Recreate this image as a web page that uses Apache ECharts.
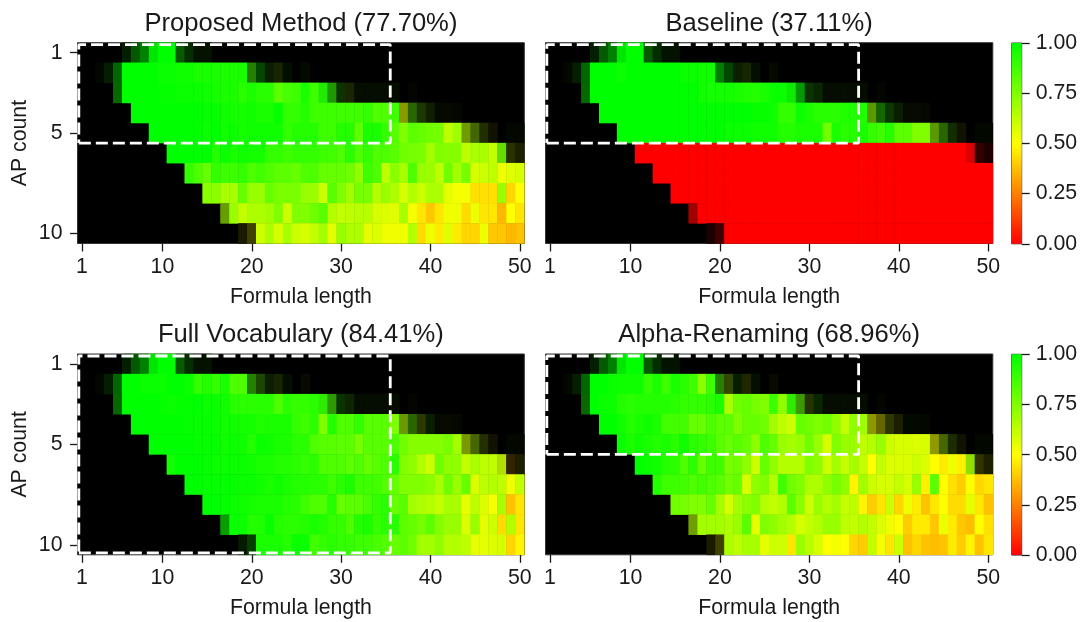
<!DOCTYPE html>
<html><head><meta charset="utf-8"><style>html,body{margin:0;background:#fff}#c{width:1081px;height:622px}</style>
<script src="https://cdn.jsdelivr.net/npm/echarts@6/dist/echarts.min.js"></script></head><body><div id="c"></div>
<script>
const formulaLengths = Array.from({length:50},(_, i)=>String(i+1));
const apCounts = ['1','2','3','4','5','6','7','8','9','10'];
const xTickLabels = ['1','10','20','30','40','50'];
const yTickLabels = ['1','5','10'];
const panelTitles = ['Proposed Method (77.70%)','Baseline (37.11%)','Full Vocabulary (84.41%)','Alpha-Renaming (68.96%)'];
const colorbarTicks = [0,0.25,0.5,0.75,1];
// sample density per cell (drawn as brightness); 0 = no samples
const coverage = [
[0,0,0,0,0,.12,.35,.5,.9,1,1,.35,.18,.07,.07],
[0,0,.03,.12,.4,1,1,1,1,1,1,1,1,1,1,1,1,1,1,.5,.28,.12,.15,.06,0,.04],
[0,0,0,0,.4,1,1,1,1,1,1,1,1,1,1,1,1,1,1,1,1,1,1,1,1,1,1,.92,.6,.2,.15,.05,.05,.05,.05,.05,0,.02],
[0,0,0,0,0,0,1,1,1,1,1,1,1,1,1,1,1,1,1,1,1,1,1,1,1,1,1,1,1,1,1,1,1,1,1,1,.6,.4,.22,.12,.04,.04,.03],
[0,0,0,0,0,0,0,0,1,1,1,1,1,1,1,1,1,1,1,1,1,1,1,1,1,1,1,1,1,1,1,1,1,1,1,1,1,1,1,1,1,1,1,.6,.4,.18,.07,0,.03,.03],
[0,0,0,0,0,0,0,0,0,0,1,1,1,1,1,1,1,1,1,1,1,1,1,1,1,1,1,1,1,1,1,1,1,1,1,1,1,1,1,1,1,1,1,1,1,1,1,.87,.2,.12],
[0,0,0,0,0,0,0,0,0,0,0,0,1,1,1,1,1,1,1,1,1,1,1,1,1,1,1,1,1,1,1,1,1,1,1,1,1,1,1,1,1,1,1,1,1,1,1,1,1,1],
[0,0,0,0,0,0,0,0,0,0,0,0,0,0,1,1,1,1,1,1,1,1,1,1,1,1,1,1,1,1,1,1,1,1,1,1,1,1,1,1,1,1,1,1,1,1,1,1,1,1],
[0,0,0,0,0,0,0,0,0,0,0,0,0,0,0,0,.62,1,1,1,1,1,1,1,1,1,1,1,1,1,1,1,1,1,1,1,1,1,1,1,1,1,1,1,1,1,1,1,1,1],
[0,0,0,0,0,0,0,0,0,0,0,0,0,0,0,0,0,0,.1,.25,1,1,1,1,1,1,1,1,1,1,1,1,1,1,1,1,1,1,1,1,1,1,1,1,1,1,1,1,1,1]
];
const proposed = [
[0,0,0,0,0,.95,.97,1,1,1,1,.95,.95,.9,.9],
[0,0,.9,.95,1,1,1,1,1,.98,.98,.97,.97,.95,.95,.95,.95,.95,.95,.85,.97,.85,.7,.9,.9,.8],
[0,0,0,0,.97,1,1,1,1,.99,.99,.98,.98,.98,.97,.96,.95,.95,.92,.95,.92,.92,.82,.86,.88,.95,.88,.93,.9,.85,.65,.8,.8,.8,.8,.8,0,.8],
[0,0,0,0,0,0,1,1,1,1,1,1,1,1,.99,.99,.97,.96,.96,.97,.95,.95,.99,.9,.9,.93,.88,.88,.88,.88,.88,.88,.9,.85,.85,.88,.55,.8,.75,.75,.8,.8,.8],
[0,0,0,0,0,0,0,0,1,1,1,1,1,1,.98,1,.97,.98,.96,.97,.97,.97,.97,.9,.93,.93,.93,.88,.88,.93,.93,.82,.95,.95,.9,.83,.75,.82,.8,.78,.77,.63,.69,.63,.67,.64,.5,0,.9,.9],
[0,0,0,0,0,0,0,0,0,0,1,1,1,1,1,.93,.98,.95,.97,.96,.96,.9,.9,.88,.9,.9,.9,.88,.87,.85,.92,.85,.9,.85,.85,.83,.78,.77,.76,.68,.75,.74,.74,.63,.67,.67,.62,.78,.6,.55],
[0,0,0,0,0,0,0,0,0,0,0,0,.9,.85,.8,.9,.88,.88,.9,.85,.87,.85,.82,.82,.8,.85,.85,.8,.8,.8,.78,.72,.88,.85,.63,.73,.67,.85,.7,.7,.63,.78,.68,.77,.58,.6,.63,.53,.56,.58],
[0,0,0,0,0,0,0,0,0,0,0,0,0,0,.73,.73,.67,.67,.8,.7,.7,.8,.76,.76,.76,.7,.7,.6,.83,.75,.68,.77,.77,.65,.7,.66,.58,.65,.6,.66,.66,.55,.52,.52,.44,.44,.44,.7,.42,.5],
[0,0,0,0,0,0,0,0,0,0,0,0,0,0,0,0,.68,.7,.62,.66,.66,.68,.75,.6,.75,.75,.78,.82,.65,.62,.63,.64,.64,.58,.57,.56,.67,.52,.45,.39,.45,.53,.53,.43,.53,.45,.45,.36,.5,.45],
[0,0,0,0,0,0,0,0,0,0,0,0,0,0,0,0,0,0,.5,.5,.6,.66,.58,.67,.6,.58,.62,.68,.55,.7,.66,.66,.55,.57,.53,.53,.53,.65,.43,.53,.46,.56,.46,.42,.42,.53,.39,.39,.36,.38]
];
const baseline = [
[0,0,0,0,0,.95,.97,1,1,1,1,.95,.95,.9,.9],
[0,0,.9,.95,1,1,1,1,.98,1,1,1,1,1,1,.98,.98,.97,.97,1,1,.8,.7,.9,.9,.8],
[0,0,0,0,.97,1,1,1,1,1,1,1,1,1,1,1,1,.97,.96,.96,.96,.95,.94,.93,.95,.98,.98,.97,.99,.9,.9,.8,.8,.8,.8,.8,0,.8],
[0,0,0,0,0,0,1,1,1,1,1,1,1,1,1,1,1,1,1,1,1,1,1,.99,.99,.97,.9,.9,.98,.95,.92,.92,.92,.94,.94,.94,.7,.9,.9,.85,.7,.7,.8],
[0,0,0,0,0,0,0,0,1,1,1,1,1,1,1,1,1,1,1,1,.98,.98,.98,.97,.97,.97,.93,.93,.95,.95,.95,.78,.95,.92,.93,.95,.9,.88,.93,.82,.82,.75,.75,.7,.8,.8,.5,0,.9,.9],
[0,0,0,0,0,0,0,0,0,0,0,0,0,0,0,0,0,0,0,0,0,0,0,0,0,0,0,0,0,0,0,0,0,0,0,0,0,0,0,0,0,0,0,0,0,0,0,0,0,0],
[0,0,0,0,0,0,0,0,0,0,0,0,0,0,0,0,0,0,0,0,0,0,0,0,0,0,0,0,0,0,0,0,0,0,0,0,0,0,0,0,0,0,0,0,0,0,0,0,0,0],
[0,0,0,0,0,0,0,0,0,0,0,0,0,0,0,0,0,0,0,0,0,0,0,0,0,0,0,0,0,0,0,0,0,0,0,0,0,0,0,0,0,0,0,0,0,0,0,0,0,0],
[0,0,0,0,0,0,0,0,0,0,0,0,0,0,0,0,0,0,0,0,0,0,0,0,0,0,0,0,0,0,0,0,0,0,0,0,0,0,0,0,0,0,0,0,0,0,0,0,0,0],
[0,0,0,0,0,0,0,0,0,0,0,0,0,0,0,0,0,0,0,0,0,0,0,0,0,0,0,0,0,0,0,0,0,0,0,0,0,0,0,0,0,0,0,0,0,0,0,0,0,0]
];
const fullVocabulary = [
[0,0,0,0,0,.95,.97,1,1,1,1,.95,.95,.9,.9],
[0,0,.9,.95,1,1,1,.98,.98,.98,1,1,.98,.9,.93,.9,.95,.85,.85,.85,.8,.8,.7,.9,.9,.7],
[0,0,0,0,.97,1,1,1,1,.99,.98,.99,.99,1,.98,.98,.97,.92,.92,.92,.92,.92,.85,.92,.9,.9,.92,.9,.85,.9,.85,.8,.8,.8,.8,.8,0,.8],
[0,0,0,0,0,0,1,1,1,1,1,1,.99,.99,.99,.98,.97,.97,.96,.96,.94,.95,.95,.95,.9,.88,.92,.75,.93,.85,.85,.9,.83,.83,.83,.75,.65,.8,.62,.85,.7,.7,.7],
[0,0,0,0,0,0,0,0,1,1,1,1,1,.99,.99,.99,.97,.98,.97,.93,.98,.97,.95,.95,.92,.92,.85,.83,.83,.82,.82,.77,.83,.83,.83,.85,.78,.74,.74,.74,.74,.77,.68,.6,.65,.6,.5,0,.9,.9],
[0,0,0,0,0,0,0,0,0,0,.97,1,1,1,.99,.98,.98,.98,.98,.97,.95,.95,.93,.93,.92,.9,.92,.85,.85,.85,.82,.85,.8,.83,.85,.92,.75,.72,.65,.6,.78,.72,.72,.62,.67,.63,.63,.6,.35,.55],
[0,0,0,0,0,0,0,0,0,0,0,0,1,1,.99,.99,.99,.99,.98,.98,.97,.95,.97,.95,.93,.93,.92,.92,.88,.92,.95,.88,.88,.87,.84,.8,.75,.75,.75,.73,.67,.78,.7,.8,.57,.63,.65,.63,.53,.62],
[0,0,0,0,0,0,0,0,0,0,0,0,0,0,1,1,.99,.98,.97,.96,.95,.95,.95,.93,.92,.88,.85,.85,.93,.8,.82,.82,.86,.9,.92,.8,.83,.68,.66,.65,.62,.67,.67,.55,.63,.57,.52,.67,.38,.45],
[0,0,0,0,0,0,0,0,0,0,0,0,0,0,0,0,.97,.98,.98,.93,.94,.99,.93,.92,.92,.93,.95,.93,.9,.9,.85,.93,.95,.9,.92,.92,.82,.8,.77,.82,.74,.7,.7,.57,.7,.55,.6,.43,.65,.45],
[0,0,0,0,0,0,0,0,0,0,0,0,0,0,0,0,0,0,.9,.95,.95,.95,.95,.93,.98,.98,.87,.9,.92,.9,.9,.88,.88,.86,.84,.8,.82,.78,.68,.68,.72,.65,.65,.63,.55,.55,.57,.58,.42,.48]
];
const alphaRenaming = [
[0,0,0,0,0,.95,.97,1,1,1,1,.95,.95,.9,.9],
[0,0,.9,.95,1,1,1,.98,.97,.97,.97,.9,.95,.88,.95,.92,.88,.73,.88,.85,.65,.9,.6,.9,.8,.6],
[0,0,0,0,.95,1,.98,.98,.93,.92,.93,.93,.93,.93,.92,.9,.9,.9,.92,.95,.67,.78,.8,.77,.75,.88,.72,.9,.8,.65,.9,.8,.8,.8,.8,.8,0,.8],
[0,0,0,0,0,0,1,1,.97,.93,.95,.97,.95,.87,.87,.87,.8,.8,.85,.82,.82,.75,.8,.8,.78,.68,.63,.6,.8,.78,.75,.78,.72,.62,.72,.69,.55,.5,.6,.55,.9,.9,.9],
[0,0,0,0,0,0,0,0,.98,.95,.97,.95,.93,.95,.92,.97,.92,.9,.88,.83,.8,.83,.8,.72,.85,.8,.7,.68,.7,.78,.7,.58,.75,.7,.7,.63,.65,.7,.6,.58,.58,.57,.58,.53,.65,.7,.5,0,.9,.9],
[0,0,0,0,0,0,0,0,0,0,1,.98,.97,.93,.92,.85,.92,.8,.88,.88,.77,.78,.72,.6,.8,.72,.65,.65,.65,.75,.72,.6,.68,.62,.68,.62,.5,.62,.57,.57,.57,.6,.57,.5,.46,.53,.47,.68,.5,.55],
[0,0,0,0,0,0,0,0,0,0,0,0,.93,.88,.88,.87,.85,.87,.85,.83,.78,.8,.58,.72,.75,.65,.87,.78,.75,.66,.66,.72,.77,.72,.48,.68,.6,.58,.58,.62,.58,.7,.47,.82,.5,.44,.4,.5,.42,.45],
[0,0,0,0,0,0,0,0,0,0,0,0,0,0,.78,.77,.75,.75,.8,.68,.58,.68,.73,.75,.65,.62,.65,.82,.73,.6,.7,.65,.68,.62,.63,.48,.4,.45,.6,.42,.53,.46,.38,.45,.5,.43,.43,.55,.45,.38],
[0,0,0,0,0,0,0,0,0,0,0,0,0,0,0,0,.65,.68,.68,.68,.66,.7,.82,.55,.75,.72,.68,.65,.58,.62,.65,.7,.7,.63,.62,.65,.62,.57,.53,.5,.4,.46,.46,.39,.54,.46,.39,.37,.5,.44],
[0,0,0,0,0,0,0,0,0,0,0,0,0,0,0,0,0,0,.5,.5,.66,.63,.67,.67,.55,.6,.6,.45,.7,.64,.58,.5,.52,.5,.42,.4,.62,.52,.45,.6,.38,.42,.38,.37,.38,.46,.4,.48,.38,.45]
];
const panelValues = [proposed, baseline, fullVocabulary, alphaRenaming];
// dashed rectangles [x0, x1, y0, y1] in axis units
const boxX = [0.65, 35.5];
const boxY = [[0.6, 5.5],[0.6, 5.5],[0.6, 10.4],[0.6, 5.5]];

const lefts=[77.5,545.5], tops=[42.7,354], W=[446.8,447.3], H=200.8;
const font='"Liberation Sans", Arial, sans-serif', ink='#1a1a1a', FS=21.3;
function cellColor(v,c){
  const r = v<.5 ? 255 : 510*(1-v), g = v<.5 ? 510*v : 255;
  return `rgb(${Math.round(r*c)},${Math.round(g*c)},0)`;
}
const title=[],grid=[],xAxis=[],yAxis=[],series=[];
panelValues.forEach((rows,p)=>{
  const col=p%2,row=p>>1,L=lefts[col],T=tops[row],w=W[col];
  title.push({text:panelTitles[p],left:L+w/2,top:T-32,padding:0,textAlign:'center',textStyle:{fontFamily:font,fontSize:25.6,fontWeight:'normal',color:ink}});
  grid.push({left:L,top:T,width:w,height:H,show:true,backgroundColor:'#000',borderColor:'#333',borderWidth:1,containLabel:false});
  const g=p;
  xAxis.push({type:'category',gridIndex:g,data:formulaLengths,position:'bottom',name:'Formula length',nameLocation:'middle',nameGap:43,
    nameTextStyle:{fontFamily:font,fontSize:FS,color:ink},
    axisLine:{show:false},
    axisTick:{show:true,alignWithLabel:true,length:8,interval:i=>xTickLabels.includes(formulaLengths[i]),lineStyle:{color:ink,width:1.3}},
    axisLabel:{show:true,margin:13,fontFamily:font,fontSize:FS,color:ink,interval:i=>xTickLabels.includes(formulaLengths[i])},splitLine:{show:false}});
  yAxis.push({type:'category',gridIndex:g,data:apCounts,inverse:true,name:col===0?'AP count':'',nameLocation:'middle',nameGap:47,nameRotate:90,
    nameTextStyle:{fontFamily:font,fontSize:FS,color:ink},
    axisLine:{show:false},
    axisTick:{show:col===0,alignWithLabel:true,length:7.5,interval:i=>yTickLabels.includes(apCounts[i]),lineStyle:{color:ink,width:1.3}},
    axisLabel:{show:col===0,margin:15,padding:[3,0,0,0],fontFamily:font,fontSize:FS,color:ink,interval:i=>yTickLabels.includes(apCounts[i])},splitLine:{show:false}});
  const data=[];
  rows.forEach((vals,y)=>vals.forEach((v,x)=>{
    let c=(coverage[y]||[])[x]||0;
    if(c>0) data.push({value:[x,y,v],itemStyle:{color:cellColor(v,c)}});
  }));
  series.push({type:'heatmap',xAxisIndex:g,yAxisIndex:g,data,progressive:0,animation:false,emphasis:{disabled:true}});
});
// hidden value axes for the dashed rectangles
panelValues.forEach((_,p)=>{
  xAxis.push({type:'value',gridIndex:p,min:.5,max:50.5,show:false});
  yAxis.push({type:'value',gridIndex:p,min:.5,max:10.5,inverse:true,show:false});
  const [y0,y1]=boxY[p],[x0,x1]=boxX;
  series.push({type:'line',xAxisIndex:4+p,yAxisIndex:4+p,symbol:'none',silent:true,animation:false,z:5,clip:false,
    lineStyle:{color:'#fff',width:2.8,type:[12,5],cap:'butt'},
    data:[[x0,y1],[x1,y1],[x1,y0],[x0,y0],[x0,y1]]});
});
// colorbars
[0,1].forEach(r=>{
  grid.push({left:1011.7,top:tops[r]+.3,width:10,height:H,show:true,borderColor:'#333',borderWidth:1});
  const g=grid.length-1;
  xAxis.push({type:'category',gridIndex:g,data:['c'],show:false});
  yAxis.push({type:'value',gridIndex:g,min:0,max:1,interval:.25,position:'right',axisLine:{show:false},
    axisTick:{show:true,length:8,lineStyle:{color:ink,width:1.3}},splitLine:{show:false},
    axisLabel:{show:true,margin:14,padding:[3,0,0,0],fontFamily:font,fontSize:FS,color:ink,formatter:v=>v.toFixed(2),customValues:colorbarTicks}});
  series.push({type:'bar',xAxisIndex:xAxis.length-1,yAxisIndex:yAxis.length-1,data:[1],barWidth:'100%',silent:true,animation:false,
    itemStyle:{color:new echarts.graphic.LinearGradient(0,0,0,1,[{offset:0,color:'#00ff00'},{offset:.5,color:'#ffff00'},{offset:1,color:'#ff0000'}])}});
});
const chart=echarts.init(document.getElementById('c'),null,{renderer:'canvas'});
chart.setOption({animation:false,backgroundColor:'#fff',title,grid,xAxis,yAxis,series});
</script></body></html>
